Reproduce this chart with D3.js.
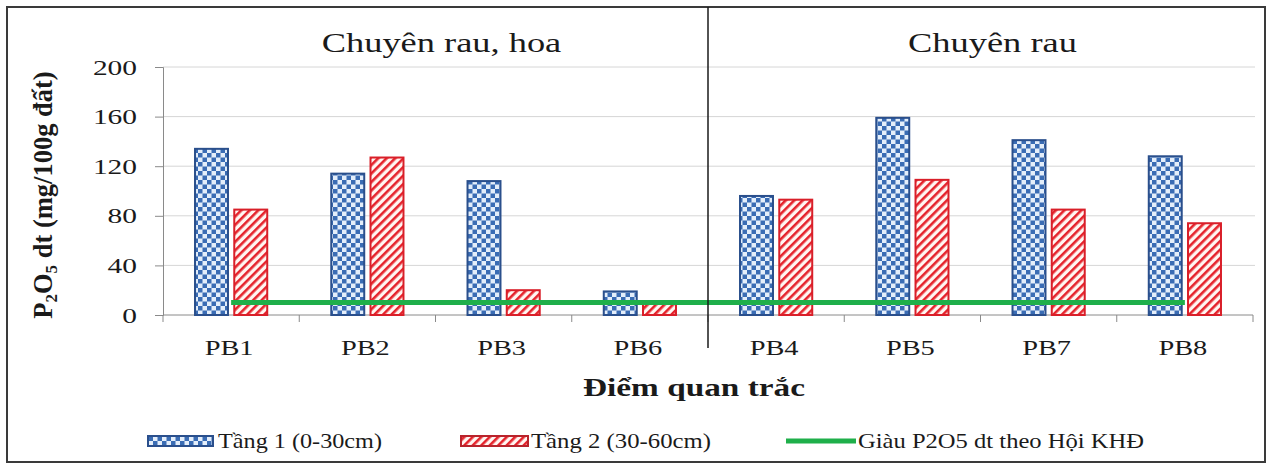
<!DOCTYPE html>
<html>
<head>
<meta charset="utf-8">
<script src="https://cdn.jsdelivr.net/npm/d3@7"></script>
<style>
  html, body { margin: 0; padding: 0; background: #ffffff; }
  svg { display: block; }
  text { font-family: "Liberation Serif", "Times New Roman", serif; fill: #1a1a1a; }
</style>
</head>
<body>
<svg id="chart" width="1267" height="464"></svg>
<script>
// ---- data ----
const categories = ["PB1", "PB2", "PB3", "PB6", "PB4", "PB5", "PB7", "PB8"];
const tang1 = [134, 114, 108, 19, 96, 159, 141, 128];
const tang2 = [85, 127, 20, 9, 93, 109, 85, 74];
const threshold = [10, 10, 10, 10, 10, 10, 10, 10];
const groupLabels = ["Chuyên rau, hoa", "Chuyên rau"];
const groupStart = [0, 4];   // index of first category in each group
const groupEnd = [3, 7];
const yTicks = [0, 40, 80, 120, 160, 200];
const seriesNames = ["Tầng 1 (0-30cm)", "Tầng 2 (30-60cm)", "Giàu P2O5 dt theo Hội KHĐ"];
const xTitle = "Điểm quan trắc";

// ---- layout ----
const W = 1267, H = 464;
const plot = { left: 163, right: 1253, top: 67, bottom: 315 };
const STRETCH = 1.3; // horizontal stretch of the original image's text

const svg = d3.select("#chart");
const defs = svg.append("defs");

// checker pattern (blue)
const chk = defs.append("pattern").attr("id", "checker")
  .attr("patternUnits", "userSpaceOnUse").attr("width", 9).attr("height", 9);
chk.append("rect").attr("width", 9).attr("height", 9).attr("fill", "#e4eefa");
chk.append("rect").attr("width", 4.5).attr("height", 4.5).attr("fill", "#3a6cb4");
chk.append("rect").attr("x", 4.5).attr("y", 4.5).attr("width", 4.5).attr("height", 4.5).attr("fill", "#3a6cb4");

// diagonal stripe pattern (red)
const str = defs.append("pattern").attr("id", "stripes")
  .attr("patternUnits", "userSpaceOnUse").attr("width", 6).attr("height", 6)
  .attr("patternTransform", "rotate(45)");
str.append("rect").attr("width", 6).attr("height", 6).attr("fill", "#fff6f2");
str.append("rect").attr("width", 2.6).attr("height", 6).attr("fill", "#e5232c");

// outer border
svg.append("rect").attr("x", 7).attr("y", 7).attr("width", 1258).attr("height", 455)
  .attr("fill", "#ffffff").attr("stroke", "#3a3a3a").attr("stroke-width", 2);

// scales
const x0 = d3.scaleBand().domain(categories).range([plot.left, plot.right]).padding(0);
const x1 = d3.scaleBand().domain(["t1", "t2"])
  .range([x0.bandwidth() * 0.235, x0.bandwidth() * 0.765]).paddingInner(0.16);
const y = d3.scaleLinear().domain([0, 200]).range([plot.bottom, plot.top]);

function stretchText(sel, k) {
  sel.each(function () {
    const len = this.getComputedTextLength();
    d3.select(this).attr("textLength", len * k).attr("lengthAdjust", "spacingAndGlyphs");
  });
}

// gridlines
svg.append("g").selectAll("line").data(yTicks.filter(d => d > 0)).join("line")
  .attr("x1", plot.left).attr("x2", plot.right + 2)
  .attr("y1", d => y(d)).attr("y2", d => y(d))
  .attr("stroke", "#d6d6d6").attr("stroke-width", 1);

// y axis
const yAxis = svg.append("g").attr("transform", `translate(${plot.left},0)`)
  .call(d3.axisLeft(y).tickValues(yTicks).tickSize(8).tickPadding(18));
yAxis.select(".domain").attr("stroke", "#8a8a8a");
yAxis.selectAll(".tick line").attr("stroke", "#8a8a8a");
yAxis.selectAll(".tick text").attr("font-size", 21).attr("fill", "#1a1a1a")
  .attr("font-family", "Liberation Serif, serif").attr("dy", "0.34em")
  .call(stretchText, 1.4);

// x axis (ticks at category boundaries)
const boundaries = categories.map(c => x0(c)).concat([plot.right]);
const xg = svg.append("g");
xg.append("line").attr("x1", plot.left).attr("x2", plot.right)
  .attr("y1", plot.bottom).attr("y2", plot.bottom).attr("stroke", "#8a8a8a");
xg.selectAll("line.tk").data(boundaries).join("line").attr("class", "tk")
  .attr("x1", d => d).attr("x2", d => d)
  .attr("y1", plot.bottom).attr("y2", plot.bottom + 7).attr("stroke", "#8a8a8a");
xg.selectAll("text").data(categories).join("text")
  .attr("x", d => x0(d) + x0.bandwidth() / 2 - 2).attr("y", 355)
  .attr("text-anchor", "middle").attr("font-size", 20).text(d => d)
  .call(stretchText, 1.42);

// bars
const barData = [];
categories.forEach((c, i) => {
  barData.push({ c, key: "t1", v: tang1[i] });
  barData.push({ c, key: "t2", v: tang2[i] });
});
svg.append("g").selectAll("rect").data(barData).join("rect")
  .attr("x", d => x0(d.c) + x1(d.key))
  .attr("width", x1.bandwidth())
  .attr("y", d => y(d.v))
  .attr("height", d => y(0) - y(d.v))
  .attr("fill", d => d.key === "t1" ? "url(#checker)" : "url(#stripes)")
  .attr("stroke", d => d.key === "t1" ? "#2a4f8c" : "#d91f29")
  .attr("stroke-width", 2);

// threshold line
const line = d3.line()
  .x((d, i) => x0(categories[i]) + x0.bandwidth() / 2)
  .y(d => y(d));
svg.append("path").datum(threshold).attr("d", line)
  .attr("fill", "none").attr("stroke", "#1faf4a").attr("stroke-width", 5);

// group separator
const sepX = x0(categories[groupStart[1]]);
svg.append("line").attr("x1", sepX).attr("x2", sepX).attr("y1", 7).attr("y2", 348)
  .attr("stroke", "#1a1a1a").attr("stroke-width", 1.5);

// group titles
const titleOffsets = [6, 12];
svg.append("g").selectAll("text").data(groupLabels).join("text")
  .attr("x", (d, i) => (x0(categories[groupStart[i]]) + x0(categories[groupEnd[i]]) + x0.bandwidth()) / 2 + titleOffsets[i])
  .attr("y", 52).attr("text-anchor", "middle").attr("font-size", 28).text(d => d)
  .call(stretchText, STRETCH);

// x title
svg.append("text").attr("x", 694).attr("y", 396).attr("text-anchor", "middle")
  .attr("font-size", 26).attr("font-weight", "bold").text(xTitle)
  .call(stretchText, 1.28);

// y title with subscripts
const yt = svg.append("text").attr("transform", "translate(52,195) rotate(-90)")
  .attr("text-anchor", "middle").attr("font-size", 26.5).attr("font-weight", "bold");
yt.append("tspan").text("P");
yt.append("tspan").attr("font-size", 17).attr("dy", 5).text("2");
yt.append("tspan").attr("dy", -5).text("O");
yt.append("tspan").attr("font-size", 17).attr("dy", 5).text("5");
yt.append("tspan").attr("dy", -5).text(" dt (mg/100g đất)");

// legend
const legendItems = [
  { name: seriesNames[0], type: "t1", sx: 148, sw: 65, tx: 218, tw: 164 },
  { name: seriesNames[1], type: "t2", sx: 461, sw: 67, tx: 531, tw: 180 },
  { name: seriesNames[2], type: "line", sx: 786, sw: 70, tx: 858, tw: 286 }
];
const lg = svg.append("g");
legendItems.forEach(it => {
  if (it.type === "line") {
    lg.append("line").attr("x1", it.sx).attr("x2", it.sx + it.sw)
      .attr("y1", 441).attr("y2", 441).attr("stroke", "#1faf4a").attr("stroke-width", 5);
  } else {
    lg.append("rect").attr("x", it.sx).attr("y", 436).attr("width", it.sw).attr("height", 10)
      .attr("fill", it.type === "t1" ? "url(#checker)" : "url(#stripes)")
      .attr("stroke", it.type === "t1" ? "#2a4f8c" : "#b8232b").attr("stroke-width", 2);
  }
  lg.append("text").attr("x", it.tx).attr("y", 448).attr("font-size", 21)
    .attr("textLength", it.tw).attr("lengthAdjust", "spacingAndGlyphs").text(it.name);
});
</script>
</body>
</html>
